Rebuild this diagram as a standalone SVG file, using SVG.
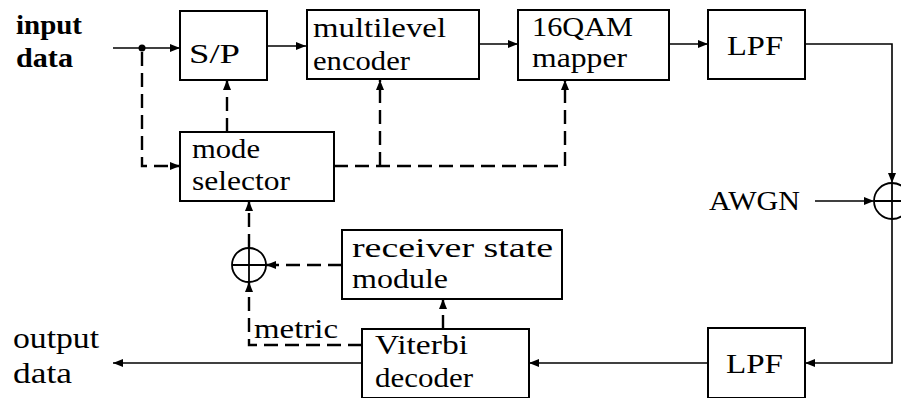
<svg xmlns="http://www.w3.org/2000/svg" width="901" height="398" viewBox="0 0 901 398">
<defs>
<marker id="ah" viewBox="0 0 10 8" refX="10" refY="4" markerWidth="10" markerHeight="8" markerUnits="userSpaceOnUse" orient="auto">
<path d="M0,0 L10,4 L0,8 Z" fill="#000"/>
</marker>
<style>
.box{fill:#fff;stroke:#000;stroke-width:2}
.t{font-family:"Liberation Serif","Times New Roman",serif;font-size:27px;fill:#000}
.o{font-family:"Liberation Serif","Times New Roman",serif;font-size:30px;fill:#000}
.b{font-family:"Liberation Serif","Times New Roman",serif;font-size:28px;font-weight:bold;fill:#000}
.s{fill:none;stroke:#000;stroke-width:1.6}
.d{fill:none;stroke:#000;stroke-width:2.4;stroke-dasharray:14 7}
.c{fill:none;stroke:#000;stroke-width:1.8}
</style>
</defs>
<rect width="901" height="398" fill="#fff"/>

<g id="connectors">
<path class="s" d="M113,48 H180" marker-end="url(#ah)"/>
<circle cx="142" cy="48" r="3.5" fill="#000"/>
<path class="s" d="M267,46 H306" marker-end="url(#ah)"/>
<path class="s" d="M479,44 H518" marker-end="url(#ah)"/>
<path class="s" d="M669,44 H708" marker-end="url(#ah)"/>
<path class="s" d="M805,44 H892 V183" marker-end="url(#ah)"/>
<path class="s" d="M815,201 H874" marker-end="url(#ah)"/>
<path class="s" d="M892,219 V363 H805" marker-end="url(#ah)"/>
<path class="s" d="M708,363 H529" marker-end="url(#ah)"/>
<path class="s" d="M362,363 H113" marker-end="url(#ah)"/>
<path class="d" d="M142,52 V166 H180" marker-end="url(#ah)"/>
<path class="d" d="M227,132 V80" marker-end="url(#ah)"/>
<path class="d" d="M334,166 H565 V80" marker-end="url(#ah)"/>
<path class="d" d="M380,166 V80" marker-end="url(#ah)"/>
<path class="d" d="M342,265 H266" marker-end="url(#ah)"/>
<path class="d" d="M249,248 V201" marker-end="url(#ah)"/>
<path class="d" d="M362,345 H249 V282" marker-end="url(#ah)"/>
<path class="d" d="M443,329 V299" marker-end="url(#ah)"/>
</g>

<g id="input-label">
<text class="b" x="16" y="34" textLength="66" lengthAdjust="spacingAndGlyphs">input</text>
<text class="b" x="16" y="67" textLength="57" lengthAdjust="spacingAndGlyphs">data</text>
</g>

<g id="sp">
<rect class="box" x="180" y="11" width="87" height="69"/>
<text class="t" x="189" y="63" font-size="30" textLength="51" lengthAdjust="spacingAndGlyphs">S/P</text>
</g>

<g id="encoder">
<rect class="box" x="307" y="10" width="172" height="69"/>
<text class="t" x="313" y="37" textLength="133" lengthAdjust="spacingAndGlyphs">multilevel</text>
<text class="t" x="313" y="70" textLength="97" lengthAdjust="spacingAndGlyphs">encoder</text>
</g>

<g id="mapper">
<rect class="box" x="518" y="10" width="151" height="70"/>
<text class="t" x="532" y="36" textLength="101" lengthAdjust="spacingAndGlyphs">16QAM</text>
<text class="t" x="532" y="67" textLength="95" lengthAdjust="spacingAndGlyphs">mapper</text>
</g>

<g id="lpf-tx">
<rect class="box" x="708" y="10" width="97" height="69"/>
<text class="t" x="727" y="55" font-size="30" textLength="56" lengthAdjust="spacingAndGlyphs">LPF</text>
</g>

<g id="adder-awgn">
<circle class="c" cx="892" cy="201" r="18"/>
<line class="c" x1="874" y1="201" x2="910" y2="201"/>
<line class="c" x1="892" y1="183" x2="892" y2="219"/>
</g>

<g id="awgn-label">
<text class="t" x="709" y="210" font-size="30" textLength="91" lengthAdjust="spacingAndGlyphs">AWGN</text>
</g>

<g id="mode-selector">
<rect class="box" x="180" y="132" width="154" height="69"/>
<text class="t" x="192" y="158" textLength="68" lengthAdjust="spacingAndGlyphs">mode</text>
<text class="t" x="192" y="190" textLength="98" lengthAdjust="spacingAndGlyphs">selector</text>
</g>

<g id="adder-metric">
<circle class="c" cx="249" cy="265" r="17"/>
<line class="c" x1="232" y1="265" x2="266" y2="265"/>
<line class="c" x1="249" y1="248" x2="249" y2="282"/>
</g>

<g id="receiver-state">
<rect class="box" x="342" y="230" width="220" height="69"/>
<text class="t" x="352" y="257" textLength="201" lengthAdjust="spacingAndGlyphs">receiver state</text>
<text class="t" x="352" y="288" textLength="96" lengthAdjust="spacingAndGlyphs">module</text>
</g>

<g id="metric-label">
<text class="t" x="254" y="338" textLength="84" lengthAdjust="spacingAndGlyphs">metric</text>
</g>

<g id="viterbi">
<rect class="box" x="362" y="329" width="167" height="69"/>
<text class="t" x="375" y="354" textLength="93" lengthAdjust="spacingAndGlyphs">Viterbi</text>
<text class="t" x="375" y="387" textLength="98" lengthAdjust="spacingAndGlyphs">decoder</text>
</g>

<g id="lpf-rx">
<rect class="box" x="708" y="328" width="97" height="70"/>
<text class="t" x="726" y="373" font-size="30" textLength="57" lengthAdjust="spacingAndGlyphs">LPF</text>
</g>

<g id="output-label">
<text class="o" x="13" y="348" textLength="86" lengthAdjust="spacingAndGlyphs">output</text>
<text class="o" x="13" y="383" textLength="59" lengthAdjust="spacingAndGlyphs">data</text>
</g>
</svg>
